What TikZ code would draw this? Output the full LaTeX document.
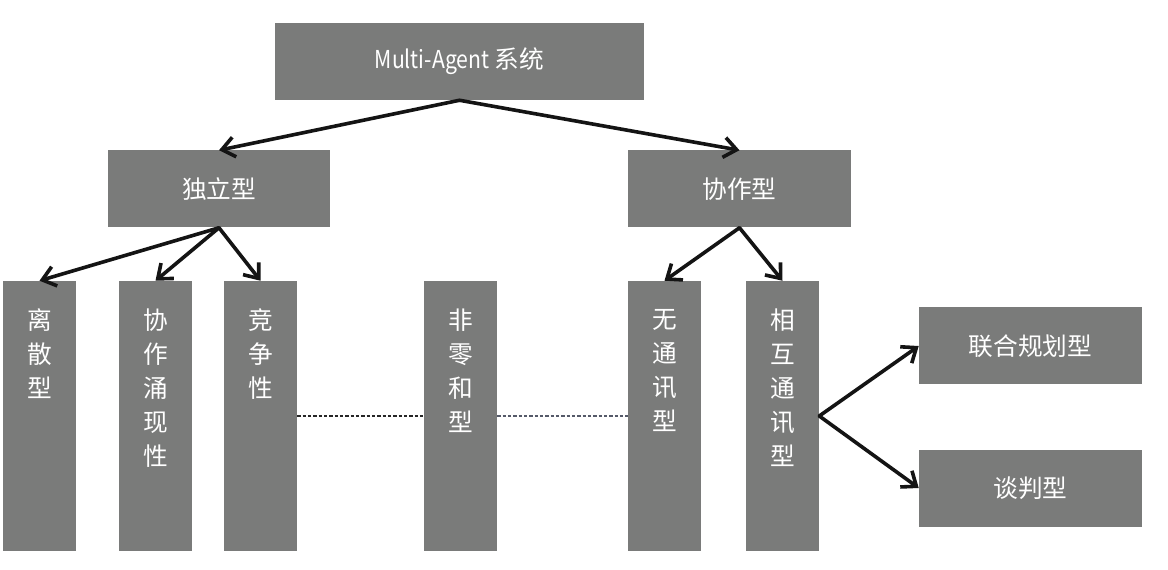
\documentclass[tikz,border=0pt]{standalone}
\usepackage{fontspec}
\setmainfont{Noto Sans CJK SC}
\usetikzlibrary{arrows.meta}
\definecolor{boxgray}{RGB}{122,123,122}
\definecolor{arrowblack}{RGB}{20,20,20}
\definecolor{dashblue}{RGB}{85,90,105}
\newcommand{\vt}[1]{\parbox[c][202.5pt][t]{54.75pt}{\centering\fontsize{18.5}{25.5}\selectfont\vspace*{21pt}#1}}
\begin{document}
\begin{tikzpicture}[x=0.75pt,y=-0.75pt,
  box/.style={fill=boxgray, draw=none, inner sep=0pt, text=white, font=\fontsize{18.5}{22}\selectfont},
  wbox/.style={box, minimum width=167.25pt, minimum height=57.75pt},
  arr/.style={-{Straight Barb[length=9.5pt,width=15pt]}, line width=2.7pt, draw=arrowblack, line cap=round},
  dsh/.style={line width=0.8pt, dash pattern=on 2.5pt off 1.5pt}
]
\useasboundingbox (0,0) rectangle (1168,570);
\fill[white] (0,0) rectangle (1168,570);
% top
\node[box, minimum width=276.75pt, minimum height=57.75pt] (top) at (459.5,61.5) {\scalebox{0.86}[1]{Multi-Agent} 系统};
\node[box, minimum width=166.5pt, minimum height=57.75pt] (dl) at (219,189) {独立型};
\node[wbox] (xz) at (739.5,189) {协作型};
% tall boxes
\node[box] (lsx) at (39.5,416) {\vt{离\\散\\型}};
\node[box] (xzyx) at (155.5,416) {\vt{协\\作\\涌\\现\\性}};
\node[box] (jzx) at (260.5,416) {\vt{竞\\争\\性}};
\node[box] (fl) at (460.5,416) {\vt{非\\零\\和\\型}};
\node[box] (wtx) at (664.5,416) {\vt{无\\通\\讯\\型}};
\node[box] (xhtx) at (782.5,416) {\vt{相\\互\\通\\讯\\型}};
% right boxes
\node[wbox] (lhgh) at (1030.5,346) {联合规划型};
\node[wbox] (tp) at (1030.5,488) {谈判型};
% arrows
\draw[arr] (top.south) -- (dl.north);
\draw[arr] (top.south) -- (xz.north);
\draw[arr] (dl.south) -- (lsx.north);
\draw[arr] (dl.south) -- (xzyx.north);
\draw[arr] (dl.south) -- (jzx.north);
\draw[arr] (xz.south) -- (wtx.north);
\draw[arr] (xz.south) -- (xhtx.north);
\draw[arr] (xhtx.east) -- (lhgh.west);
\draw[arr] (xhtx.east) -- (tp.west);
% dashed
\draw[dsh, draw=black!85] (jzx.east) -- (fl.west);
\draw[dsh, draw=dashblue] (fl.east) -- (wtx.west);
\end{tikzpicture}
\end{document}
